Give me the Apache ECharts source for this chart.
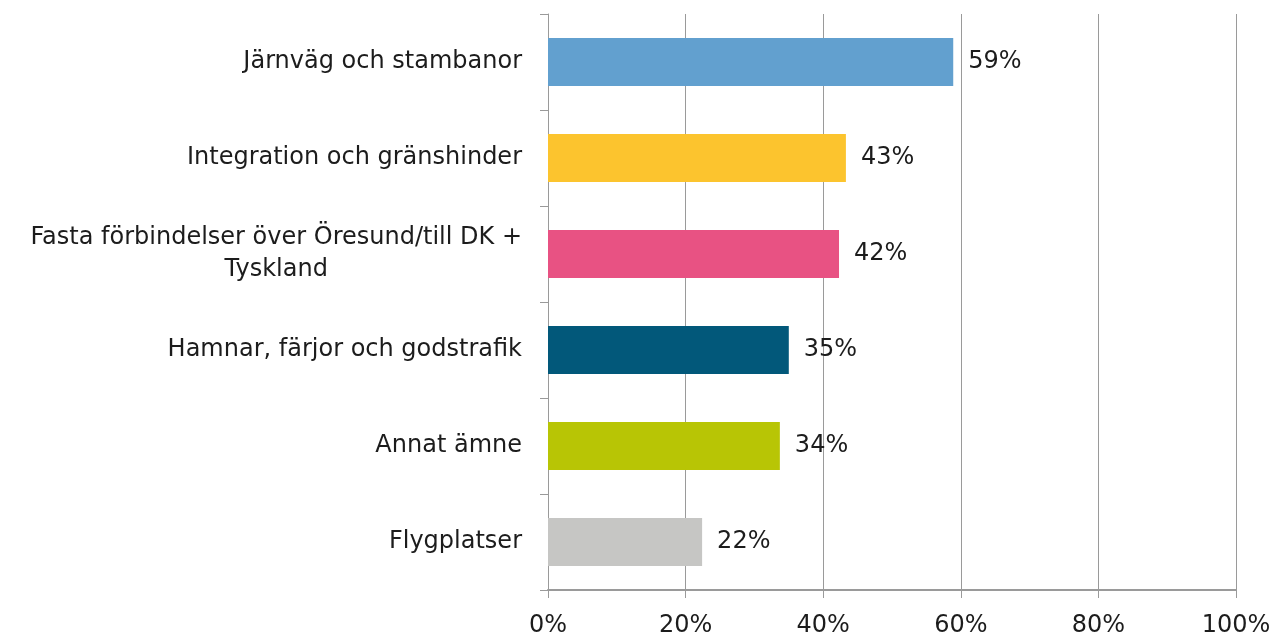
<!DOCTYPE html>
<html>
<head>
<meta charset="utf-8">
<script src="https://cdn.jsdelivr.net/npm/echarts@6/dist/echarts.min.js"></script>
<style>
  html, body { margin: 0; padding: 0; background: #fff; }
  #chart { width: 1271px; height: 636px; }
</style>
</head>
<body>
<div id="chart"></div>
<script>
// kategorier, uppifrån och ned
const categories = [
  'Järnväg och stambanor',
  'Integration och gränshinder',
  'Fasta förbindelser över Öresund/till DK +\nTyskland',
  'Hamnar, färjor och godstrafik',
  'Annat ämne',
  'Flygplatser'
];
const values = [58.9, 43.3, 42.3, 35.0, 33.7, 22.4];
const barColors = ['#62A0CF', '#FCC42E', '#E85283', '#02587A', '#B8C505', '#C6C6C4'];

const font = 'DejaVu Sans';
const fs = 24;
const txt = '#1c1c1c';

const chart = echarts.init(document.getElementById('chart'));

chart.setOption({
  animation: false,
  grid: { left: 548, right: 35, top: 14, bottom: 46, outerBoundsMode: 'none', containLabel: false },
  xAxis: {
    type: 'value',
    min: 0,
    max: 100,
    interval: 20,
    axisLine: { show: true, lineStyle: { color: '#9a9a9a', width: 2 } },
    axisTick: { show: true, length: 8, lineStyle: { color: '#9a9a9a' } },
    axisLabel: {
      formatter: '{value}%',
      fontFamily: font,
      fontSize: fs,
      color: txt,
      margin: 24
    },
    splitLine: { show: true, lineStyle: { color: '#9a9a9a', width: 1 } }
  },
  yAxis: {
    type: 'category',
    inverse: true,
    data: categories,
    axisLine: { show: true, lineStyle: { color: '#9a9a9a', width: 1 } },
    axisTick: { show: true, length: 8, lineStyle: { color: '#9a9a9a' } },
    axisLabel: {
      fontFamily: font,
      fontSize: fs,
      color: txt,
      margin: 26,
      lineHeight: 32,
      formatter: function (v) {
        const lines = v.split('\n');
        if (lines.length === 1) return v;
        return '{a|' + lines[0] + '}\n{c|' + lines[1] + '}';
      },
      rich: {
        a: { fontFamily: font, fontSize: fs, color: txt, lineHeight: 32, align: 'right' },
        c: { fontFamily: font, fontSize: fs, color: txt, lineHeight: 32, align: 'center' }
      }
    }
  },
  series: [{
    type: 'bar',
    barWidth: '50%',
    data: values.map((v, i) => ({ value: v, itemStyle: { color: barColors[i] } })),
    label: {
      show: true,
      position: 'right',
      distance: 15,
      fontFamily: font,
      fontSize: fs,
      color: txt,
      formatter: p => Math.round(p.value) + '%'
    }
  }]
});
</script>
</body>
</html>
